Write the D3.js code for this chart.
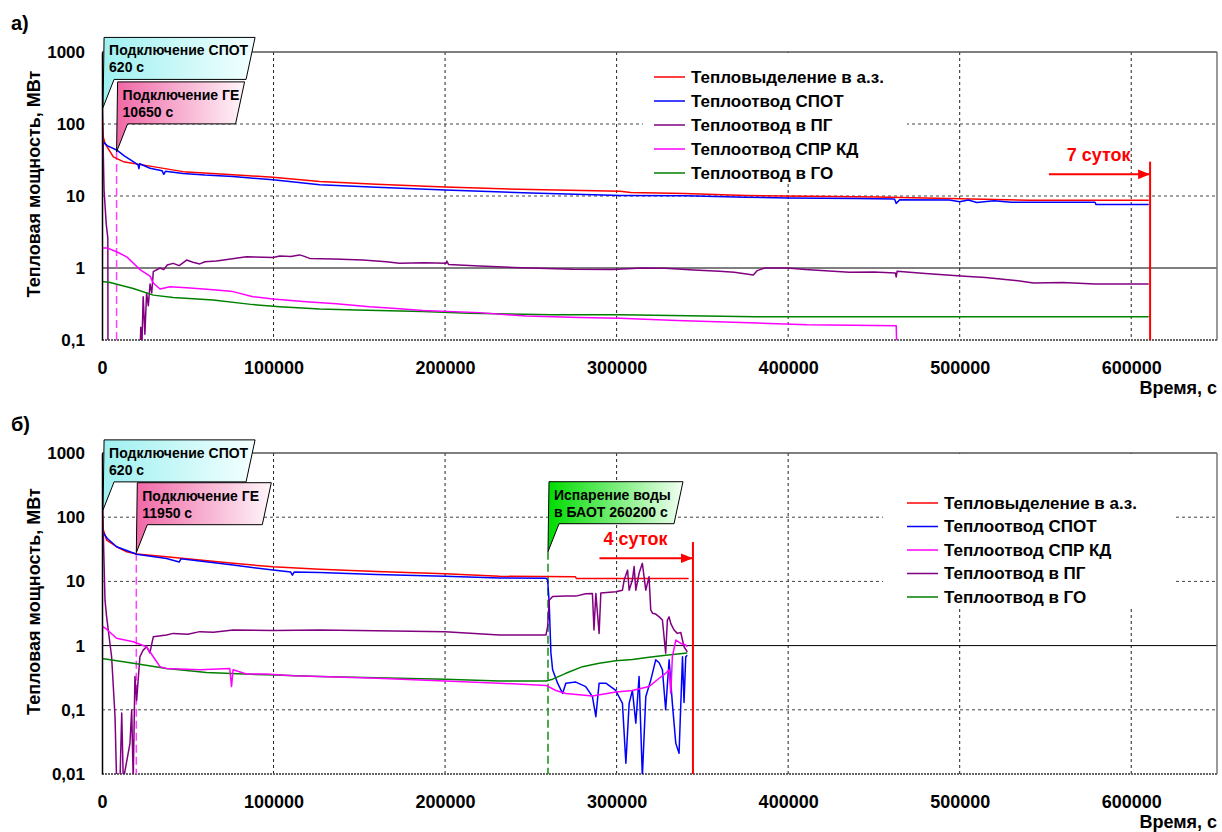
<!DOCTYPE html>
<html>
<head>
<meta charset="utf-8">
<script src="https://cdn.jsdelivr.net/npm/d3@7"></script>
<style>
body { margin: 0; background: #fff; }
text { font-family: "Liberation Sans", Arial, sans-serif; font-weight: bold; }
</style>
</head>
<body>
<svg id="chart" width="1222" height="832"></svg>
<script>
// ---- data (t in s, power in MW) ----
var xTicks = [0, 100000, 200000, 300000, 400000, 500000, 600000];
var yTicksA = [0.1, 1, 10, 100, 1000];
var yLabelsA = ["0,1", "1", "10", "100", "1000"];
var yTicksB = [0.01, 0.1, 1, 10, 100, 1000];
var yLabelsB = ["0,01", "0,1", "1", "10", "100", "1000"];

// panel а)
var a_heat = [[0,200],[300,110],[780,65],[1750,54],[6600,35],[12400,30],[28000,26],[47300,21.8],[76400,19.7],[99700,18.2],[126900,15.9],[160000,14.6],[200000,13.3],[250000,12.3],[302000,11.6],[308200,11.2],[339500,10.8],[375300,10.2],[411100,9.9],[451300,9.7],[493800,9.2],[540800,8.7],[610200,8.7]];
var a_spot = [[0,0.05],[200,30],[780,56],[3000,50],[8500,43.6],[13000,36],[18200,30],[21000,27],[21500,24],[22000,28],[28000,24.3],[35000,22.5],[36000,20],[37000,22],[47300,20.6],[60000,19.5],[76400,18.6],[99700,16.8],[126900,14.3],[160000,13.2],[200000,12.1],[250000,11],[302000,10.2],[340000,10.1],[375300,9.6],[400000,9.4],[440000,9.2],[462000,9.1],[463000,7.9],[465000,8.9],[494000,8.8],[500000,8.3],[505000,8.8],[510000,8.1],[520000,8.6],[530000,8.2],[578900,8.2],[579500,7.6],[610200,7.6]];
var a_pg = [[0,0.05],[100,1000],[400,100],[1200,12],[2500,4],[3400,2.6],[3500,0.05],[22100,0.05],[22600,0.15],[23300,0.09],[24000,0.4],[25000,0.12],[26000,0.45],[27000,0.3],[28000,0.6],[29000,0.45],[29900,0.89],[33800,1.0],[36000,0.95],[38000,1.1],[41500,1.16],[45000,1.08],[49300,1.29],[53000,1.2],[57000,1.14],[60000,1.22],[66700,1.25],[75000,1.33],[84200,1.43],[99700,1.4],[103600,1.47],[110000,1.44],[115200,1.52],[118000,1.45],[121000,1.36],[135000,1.33],[152100,1.29],[165700,1.22],[173400,1.16],[188000,1.18],[200600,1.16],[201000,1.25],[202000,1.12],[220000,1.07],[240000,1.02],[274300,0.96],[297600,0.95],[314900,1.0],[328300,0.99],[345000,0.94],[360000,0.9],[368600,0.87],[379700,0.8],[382000,0.92],[386400,1.0],[399800,1.0],[410000,0.95],[435700,0.87],[450000,0.88],[462500,0.85],[463000,0.75],[463500,0.9],[480000,0.84],[502800,0.77],[515000,0.74],[525100,0.7],[535000,0.66],[543000,0.62],[560000,0.63],[578900,0.6],[610200,0.6]];
var a_sprkd = [[0,0.05],[200,1.9],[3000,1.9],[8500,1.68],[14400,1.43],[22100,0.95],[28000,0.77],[29900,0.62],[33800,0.51],[39600,0.55],[49300,0.53],[64800,0.5],[76400,0.47],[88000,0.4],[99700,0.37],[119100,0.34],[136600,0.32],[156000,0.29],[169500,0.276],[187000,0.256],[220000,0.24],[247200,0.215],[278200,0.205],[302000,0.2],[335000,0.187],[382000,0.172],[411100,0.163],[463000,0.158],[463500,0.05]];
var a_go = [[0,0.65],[4700,0.63],[18200,0.52],[29900,0.42],[41500,0.39],[64800,0.36],[88000,0.31],[103600,0.29],[126900,0.27],[148200,0.26],[167600,0.255],[187000,0.248],[214200,0.235],[262700,0.225],[302000,0.225],[380900,0.21],[610200,0.21]];

// panel б)
var b_heat = [[0,210],[300,108],[780,63],[2700,44],[8500,34.7],[14400,29],[20200,26.8],[37600,24.3],[57000,21.6],[76400,19.1],[99700,16.9],[126900,15.4],[160000,14.3],[200000,13.2],[231700,12],[276000,11.8],[276500,11.1],[342000,11.1]];
var b_spot = [[0,0.6],[200,40],[780,57],[3000,47],[8500,34.7],[20200,26.5],[37600,22.8],[45000,20],[46000,22.5],[76400,18],[99700,15],[110000,14],[111000,12.5],[112000,14],[126900,13.7],[160000,12.8],[200000,12],[231700,11.3],[258800,11.2],[259800,10.5],[260700,4.6],[261700,0.77],[262700,0.42],[265600,0.26],[268500,0.18],[270400,0.26],[276200,0.27],[282000,0.23],[285900,0.16],[287900,0.078],[289800,0.26],[293700,0.26],[299500,0.2],[303400,0.126],[305400,0.0147],[307300,0.126],[309200,0.2],[311200,0.062],[313100,0.33],[315000,0.009],[317000,0.16],[319900,0.29],[322800,0.6],[324800,0.54],[326700,0.42],[328600,0.1],[330600,0.6],[332500,0.126],[334500,0.03],[336400,0.021],[338400,0.67],[339300,0.13],[340300,0.67],[341200,0.71]];
var b_sprkd = [[0,0.11],[300,2.0],[2700,1.8],[8500,1.3],[18200,1.15],[26000,0.96],[29900,0.67],[33800,0.47],[37600,0.44],[57000,0.42],[74500,0.44],[75500,0.23],[76400,0.42],[84200,0.36],[95800,0.36],[111300,0.34],[126900,0.33],[160000,0.31],[200000,0.28],[231700,0.26],[258800,0.24],[264600,0.2],[270400,0.18],[285900,0.164],[299500,0.19],[309200,0.2],[318900,0.23],[324800,0.31],[328600,0.37],[330600,0.42],[331600,0.18],[332500,0.67],[334500,1.22],[337400,1.08],[340300,1.02],[341200,0.96]];
var b_pg = [[0,0.05],[100,1000],[300,200],[800,50],[1750,5.1],[2700,2.8],[5600,0.67],[7600,0.078],[8500,0.008],[10500,0.008],[11500,0.089],[12400,0.008],[16300,0.03],[17300,0.1],[18200,0.008],[19200,0.33],[20200,0.14],[22100,0.67],[24000,0.85],[26000,0.96],[27900,0.77],[29900,1.37],[37600,1.46],[41500,1.55],[50000,1.5],[57000,1.65],[65000,1.62],[76400,1.75],[100000,1.72],[126900,1.75],[160000,1.7],[200000,1.65],[231700,1.46],[258800,1.46],[259800,2],[260700,5.1],[262700,5.8],[270400,5.9],[276200,5.9],[282000,6.4],[285900,6.5],[286800,1.75],[287900,6.5],[289800,1.55],[290800,6.6],[299500,6.9],[303400,7.3],[304400,10.5],[306400,15],[307300,7.3],[309200,10.5],[310200,17],[311200,7.3],[313100,13.4],[315000,19.1],[317000,7.3],[318900,11.8],[319900,3.6],[320900,3.2],[322800,3.1],[324800,2.8],[326700,2.5],[328600,0.76],[329600,2.5],[330600,2.8],[331600,2.2],[333500,1.75],[335400,1.55],[337400,1.6],[339300,0.96],[341200,0.8]];
var b_go = [[0,0.63],[18200,0.53],[37600,0.44],[60900,0.38],[95800,0.35],[126900,0.33],[200000,0.3],[231700,0.28],[258800,0.28],[262700,0.3],[270400,0.37],[280100,0.47],[289800,0.53],[299500,0.58],[309200,0.61],[318900,0.66],[328600,0.71],[341200,0.77]];

var names = {heat: "Тепловыделение в а.з.", spot: "Теплоотвод СПОТ", pg: "Теплоотвод в ПГ", sprkd: "Теплоотвод СПР КД", go: "Теплоотвод в ГО"};
var colors = {heat: "#ff0000", spot: "#0000ff", pg: "#800080", sprkd: "#ff00ff", go: "#008000"};

var a_notes = [
  {t: 620, v: 170, w: 152, grad: "gCyan", lines: ["Подключение СПОТ", "620 с"]},
  {t: 8500, v: 41, w: 128, grad: "gPink", lines: ["Подключение ГЕ", "10650 с"], dash: "#ff40ff"}
];
var b_notes = [
  {t: 620, v: 130, w: 152, grad: "gCyan", lines: ["Подключение СПОТ", "620 с"]},
  {t: 20000, v: 28, w: 135, grad: "gPink", lines: ["Подключение ГЕ", "11950 с"], dash: "#ff40ff"},
  {t: 260000, v: 29, w: 135, grad: "gGreen", lines: ["Испарение воды", "в БАОТ 260200 с"], dash: "#109010"}
];
var a_mark = {t0: 552000, t1: 611000, tLabel: 581000, vArrow: 20, vTop: 30, label: "7 суток"};
var b_mark = {t0: 290000, t1: 344500, tLabel: 311000, vArrow: 23, vTop: 41, label: "4 суток"};

// ---- drawing ----
var svg = d3.select("#chart");
var defs = svg.append("defs");
function grad(id, c0, c1) {
  var lg = defs.append("linearGradient").attr("id", id);
  lg.append("stop").attr("offset", "0%").attr("stop-color", c0);
  lg.append("stop").attr("offset", "100%").attr("stop-color", c1);
}
grad("gCyan", "#9ff0f0", "#f4ffff");
grad("gPink", "#f068a6", "#fff6fa");
grad("gGreen", "#00dc00", "#f2fff2");
defs.append("marker").attr("id", "arrow").attr("viewBox", "0 0 10 10")
  .attr("refX", 10).attr("refY", 5).attr("markerWidth", 6).attr("markerHeight", 6)
  .attr("orient", "auto").append("path").attr("d", "M0,1L10,5L0,9Z").attr("fill", "#ff0000");

var left = 102, right = 1217;
var x = d3.scaleLinear().domain([0, 650000]).range([left, right]);

function panel(o) {
  var y = d3.scaleLog().domain([o.yTicks[0], 1000]).range([o.bottom, o.top]);
  var g = svg.append("g");

  defs.append("clipPath").attr("id", "clip" + o.id).append("rect")
    .attr("x", left).attr("y", o.top).attr("width", right - left).attr("height", o.bottom - o.top);

  // grid
  g.selectAll(".vg").data(xTicks.slice(1)).enter().append("line")
    .attr("x1", d => x(d)).attr("x2", d => x(d)).attr("y1", o.top).attr("y2", o.bottom)
    .attr("stroke", "#222").attr("stroke-dasharray", "3,3");
  g.selectAll(".hg").data(o.yTicks.slice(1, -1)).enter().append("line")
    .attr("x1", left).attr("x2", right).attr("y1", d => y(d)).attr("y2", d => y(d))
    .attr("stroke", d => d === 1 ? "#000" : "#444")
    .attr("stroke-dasharray", d => d === 1 ? null : "3,3");

  // legend background
  g.append("rect").attr("x", o.leg.x0).attr("y", o.top + 1).attr("width", o.leg.x1 - o.leg.x0)
    .attr("height", o.leg.y1 - o.top - 1).attr("fill", "#fff");

  // plot border
  g.append("line").attr("x1", left).attr("x2", right).attr("y1", o.top).attr("y2", o.top).attr("stroke", "#555").attr("stroke-width", 1.5);
  g.append("line").attr("x1", right).attr("x2", right).attr("y1", o.top).attr("y2", o.bottom).attr("stroke", "#777").attr("stroke-width", 1.5);
  g.append("line").attr("x1", left).attr("x2", right).attr("y1", o.bottom).attr("y2", o.bottom)
    .attr("stroke", "#666").attr("stroke-width", 2).attr("stroke-dasharray", "2,1");

  // vertical event lines from callouts
  o.notes.filter(n => n.dash).forEach(function(n) {
    g.append("line").attr("x1", x(n.t)).attr("x2", x(n.t)).attr("y1", y(n.v)).attr("y2", o.bottom)
      .attr("stroke", n.dash).attr("stroke-width", 1.5).attr("stroke-dasharray", "8,4");
  });

  // series
  var line = d3.line().x(d => x(d[0])).y(d => y(d[1]));
  var lines = g.append("g").attr("clip-path", "url(#clip" + o.id + ")");
  o.draw.forEach(function(k) {
    lines.append("path").datum(o.series[k]).attr("d", line)
      .attr("fill", "none").attr("stroke", colors[k]).attr("stroke-width", 1.5)
      .attr("stroke-linejoin", "round");
  });

  // axes
  var ya = g.append("g").attr("transform", "translate(" + left + ",0)")
    .call(d3.axisLeft(y).tickValues(o.yTicks).tickFormat((d, i) => o.yLabels[i]).tickSize(0).tickPadding(17));
  ya.select(".domain").attr("stroke", "#000").attr("stroke-width", 1.5);
  ya.selectAll("text").style("font-size", "17px").attr("fill", "#000");

  var xa = g.append("g").attr("transform", "translate(0," + o.bottom + ")")
    .call(d3.axisBottom(x).tickValues(xTicks).tickFormat(d3.format("d")).tickSize(0).tickPadding(21));
  xa.select(".domain").remove();
  xa.selectAll("text").style("font-size", "18px").attr("fill", "#000");

  g.append("text").attr("x", right).attr("y", o.bottom + 54).attr("text-anchor", "end")
    .style("font-size", "18px").text("Время, с");
  g.append("text").attr("transform", "translate(40," + ((o.top + o.bottom) / 2 - 12) + ") rotate(-90)")
    .attr("text-anchor", "middle").style("font-size", "18px").text("Тепловая мощность, МВт");
  g.append("text").attr("x", 11).attr("y", o.top - 22).style("font-size", "20px").text(o.tag);

  // legend
  var lg = g.selectAll(".leg").data(o.legend).enter().append("g")
    .attr("transform", (d, i) => "translate(" + o.leg.lx + "," + (o.leg.ly + i * o.leg.dy) + ")");
  lg.append("line").attr("x1", 0).attr("x2", 31).attr("stroke", d => colors[d]).attr("stroke-width", 1.5);
  lg.append("text").attr("x", 37).attr("dy", "0.35em").style("font-size", "17px").text(d => names[d]);

  // callouts
  o.notes.forEach(function(n) {
    var tx = x(n.t), ty = y(n.v), top = ty - 70, bot = ty - 28;
    var pts = [[tx, ty], [tx + 1, top], [tx + n.w, top], [tx + n.w - 9, bot], [tx + 11, bot]];
    g.append("polygon").attr("points", pts.map(p => p.join(",")).join(" "))
      .attr("fill", "url(#" + n.grad + ")").attr("stroke", "#000").attr("stroke-width", 1);
    g.selectAll(null).data(n.lines).enter().append("text")
      .attr("x", tx + 6).attr("y", (d, i) => top + 18 + i * 17)
      .style("font-size", "14px").text(d => d);
  });

  // duration marker
  var m = o.mark;
  g.append("line").attr("x1", x(m.t1)).attr("x2", x(m.t1)).attr("y1", y(m.vTop)).attr("y2", o.bottom)
    .attr("stroke", "#ff0000").attr("stroke-width", 2);
  g.append("line").attr("x1", x(m.t0)).attr("x2", x(m.t1)).attr("y1", y(m.vArrow)).attr("y2", y(m.vArrow))
    .attr("stroke", "#ff0000").attr("stroke-width", 2).attr("marker-end", "url(#arrow)");
  g.append("text").attr("x", x(m.tLabel)).attr("y", y(m.vArrow) - 13).attr("text-anchor", "middle")
    .attr("fill", "#ff0000").style("font-size", "18px").text(m.label);
}

panel({
  id: "a", tag: "а)", top: 52, bottom: 340, yTicks: yTicksA, yLabels: yLabelsA,
  series: {heat: a_heat, spot: a_spot, pg: a_pg, sprkd: a_sprkd, go: a_go},
  draw: ["heat", "spot", "pg", "go", "sprkd"],
  legend: ["heat", "spot", "pg", "sprkd", "go"],
  leg: {x0: 643, x1: 907, y1: 183, lx: 654, ly: 77, dy: 24},
  notes: a_notes, mark: a_mark
});
panel({
  id: "b", tag: "б)", top: 453, bottom: 774, yTicks: yTicksB, yLabels: yLabelsB,
  series: {heat: b_heat, spot: b_spot, pg: b_pg, sprkd: b_sprkd, go: b_go},
  draw: ["heat", "spot", "pg", "go", "sprkd"],
  legend: ["heat", "spot", "sprkd", "pg", "go"],
  leg: {x0: 883, x1: 1173, y1: 608, lx: 907, ly: 503, dy: 23.5},
  notes: b_notes, mark: b_mark
});
</script>
</body>
</html>
